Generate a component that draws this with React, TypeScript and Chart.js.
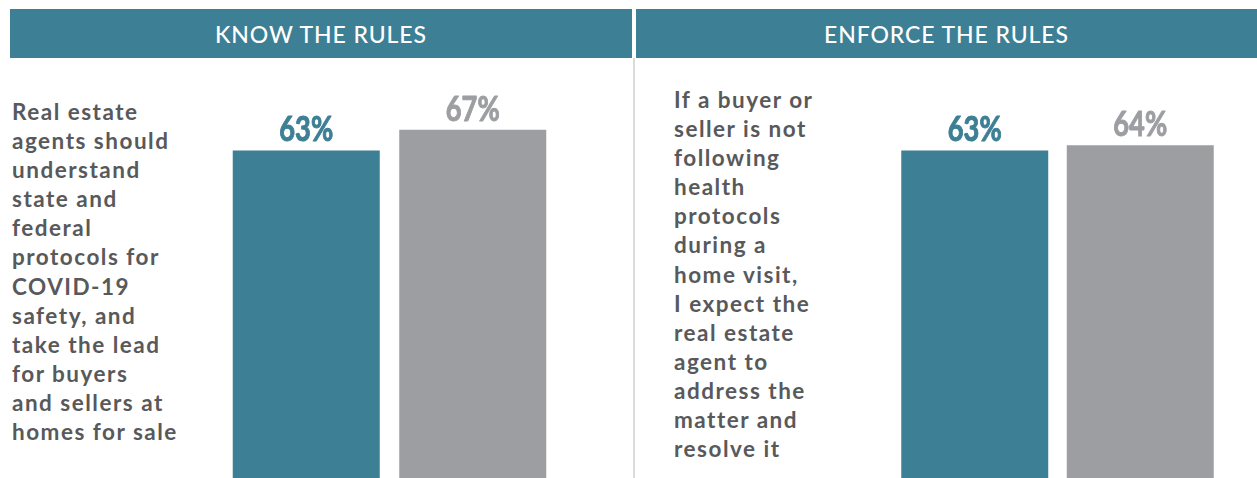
import React, { useEffect, useRef } from "react";
import { Chart, registerables } from "chart.js";

Chart.register(...registerables);

// ---- data ----
const panelTitles = ["KNOW THE RULES", "ENFORCE THE RULES"];
const groupLabels = ["Group A", "Group B"];
const knowValues = [63, 67];
const enforceValues = [63, 64];
const knowStatement = [
  "Real estate",
  "agents should",
  "understand",
  "state and",
  "federal",
  "protocols for",
  "COVID-19",
  "safety, and",
  "take the lead",
  "for buyers",
  "and sellers at",
  "homes for sale",
];
const enforceStatement = [
  "If a buyer or",
  "seller is not",
  "following",
  "health",
  "protocols",
  "during a",
  "home visit,",
  "I expect the",
  "real estate",
  "agent to",
  "address the",
  "matter and",
  "resolve it",
];

const TEAL = "#3d7f94";
const GRAY = "#9d9ea2";
const barColors = [TEAL, GRAY];
const Y_MAX = 80.4;

const valueLabelPlugin = {
  id: "valueLabels",
  afterDatasetsDraw(chart: any) {
    const ctx = chart.ctx;
    const meta = chart.getDatasetMeta(0);
    const data = chart.data.datasets[0].data;
    const sx = 0.8;
    ctx.save();
    ctx.font = 'bold 34px Lato, "Open Sans", sans-serif';
    ctx.textAlign = "center";
    ctx.textBaseline = "alphabetic";
    meta.data.forEach((bar: any, i: number) => {
      ctx.save();
      ctx.translate(bar.x, bar.y - 9);
      ctx.scale(sx, 1);
      ctx.fillStyle = barColors[i];
      ctx.strokeStyle = barColors[i];
      ctx.lineWidth = 1.0;
      ctx.lineJoin = "round";
      ctx.fillText(data[i] + "%", 0, 0);
      ctx.strokeText(data[i] + "%", 0, 0);
      ctx.restore();
    });
    ctx.restore();
  },
};

function BarPanel({ values, left, width, barPct }: { values: number[]; left: number; width: number; barPct: number }) {
  const ref = useRef<HTMLCanvasElement>(null);
  useEffect(() => {
    if (!ref.current) return;
    const chart = new Chart(ref.current, {
      type: "bar",
      data: {
        labels: groupLabels,
        datasets: [
          {
            data: values,
            backgroundColor: barColors,
            borderWidth: 0,
            barPercentage: barPct,
            categoryPercentage: 1,
          },
        ],
      },
      options: {
        responsive: false,
        animation: false,
        maintainAspectRatio: false,
        layout: { padding: 0 },
        plugins: { legend: { display: false }, tooltip: { enabled: false } },
        scales: {
          x: { display: false },
          y: { display: false, min: 0, max: Y_MAX },
        },
      },
      plugins: [valueLabelPlugin],
    });
    return () => chart.destroy();
  }, []);
  return (
    <canvas
      ref={ref}
      width={width}
      height={418}
      style={{ position: "absolute", left, top: 60, width, height: 418 }}
    />
  );
}

const headerStyle: React.CSSProperties = {
  position: "absolute",
  top: 9,
  height: 49,
  background: TEAL,
  color: "#ffffff",
  fontFamily: "Lato, 'Open Sans', sans-serif",
  fontSize: 23,
  fontWeight: 500,
  display: "flex",
  alignItems: "center",
  justifyContent: "center",
  letterSpacing: 0.9,
};

const textStyle: React.CSSProperties = {
  position: "absolute",
  fontFamily: "Lato, 'Open Sans', sans-serif",
  fontWeight: 700,
  fontSize: 22.5,
  lineHeight: "29.1px",
  color: "#58595b",
  letterSpacing: 1.5,
  whiteSpace: "nowrap",
};

export default function App() {
  return (
    <div style={{ position: "absolute", left: 0, top: 0, width: 1257, height: 478, background: "#fff", overflow: "hidden" }}>
      <div style={{ ...headerStyle, left: 10, width: 622 }}>{panelTitles[0]}</div>
      <div style={{ ...headerStyle, left: 636, width: 621 }}>{panelTitles[1]}</div>
      <div style={{ position: "absolute", left: 633, top: 58, width: 2, height: 420, background: "#dcdcdc" }} />
      <div style={{ ...textStyle, left: 12, top: 97 }}>
        {knowStatement.map((l, i) => (
          <div key={i}>{l}</div>
        ))}
      </div>
      <div style={{ ...textStyle, left: 674, top: 85 }}>
        {enforceStatement.map((l, i) => (
          <div key={i}>{l}</div>
        ))}
      </div>
      <BarPanel values={knowValues} left={223} width={333} barPct={0.883} />
      <BarPanel values={enforceValues} left={892} width={331} barPct={0.888} />
    </div>
  );
}
